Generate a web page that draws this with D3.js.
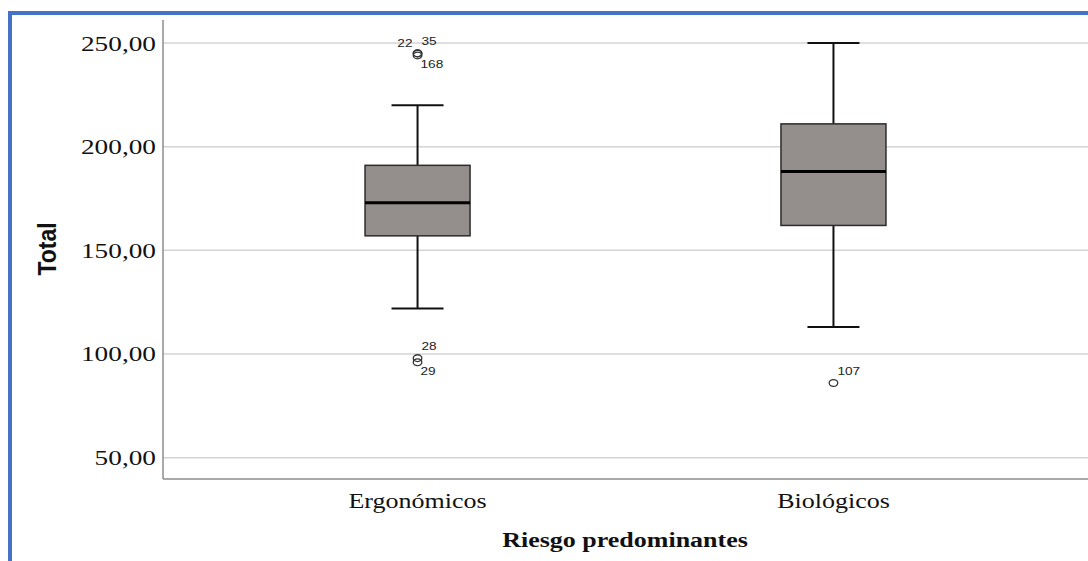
<!DOCTYPE html>
<html>
<head>
<meta charset="utf-8">
<script src="https://cdn.jsdelivr.net/npm/d3@7"></script>
<style>
  html, body { margin: 0; padding: 0; background: #fff; }
  svg { display: block; }
</style>
</head>
<body>
<div id="chart"></div>
<script>
// categories and box statistics
const categories = ["Ergonómicos", "Biológicos"];
const whiskerLow = [122, 113];
const q1 = [157, 162];
const medians = [173, 188];
const q3 = [191, 211];
const whiskerHigh = [220, 250];

// outliers: category index, case id, value
const outlierCat = [0, 0, 0, 0, 0, 1];
const outlierId = ["22", "35", "168", "28", "29", "107"];
const outlierVal = [245, 245, 244, 98, 96, 86];

const yTicks = [50, 100, 150, 200, 250];
const xTitle = "Riesgo predominantes";
const yTitle = "Total";

const W = 1088, H = 561;
const stretch = 1.3; // the original image is widened horizontally
const plot = { left: 163, right: 1088, top: 20, bottom: 479 };

const svg = d3.select("#chart").append("svg")
    .attr("width", W)
    .attr("height", H);

// blue frame (top and left edge)
svg.append("rect").attr("x", 8).attr("y", 11).attr("width", W - 8).attr("height", 4).attr("fill", "#4472c4");
svg.append("rect").attr("x", 8).attr("y", 11).attr("width", 4).attr("height", H - 11).attr("fill", "#4472c4");

const x = d3.scalePoint()
    .domain(categories)
    .range([plot.left, plot.right])
    .padding(0.612);

const y = d3.scaleLinear()
    .domain([39.7, 261.1])
    .range([plot.bottom, plot.top]);

// gridlines
svg.append("g")
  .selectAll("line")
  .data(yTicks)
  .join("line")
    .attr("x1", plot.left)
    .attr("x2", plot.right)
    .attr("y1", d => y(d))
    .attr("y2", d => y(d))
    .attr("stroke", "#d4d4d4")
    .attr("stroke-width", 1.5);

// tick labels
svg.append("g")
  .selectAll("text")
  .data(yTicks)
  .join("text")
    .attr("transform", d => `translate(${plot.left - 7},${y(d) + 7.5}) scale(${stretch},1)`)
    .attr("text-anchor", "end")
    .style("font-family", "'Liberation Serif', 'Times New Roman', serif")
    .style("font-size", "21px")
    .attr("fill", "#111")
    .text(d => d3.format(".2f")(d).replace(".", ","));

// axis lines
svg.append("line")
    .attr("x1", plot.left).attr("x2", plot.left)
    .attr("y1", plot.top).attr("y2", plot.bottom)
    .attr("stroke", "#8c8c8c").attr("stroke-width", 1.5);
svg.append("line")
    .attr("x1", plot.left).attr("x2", plot.right)
    .attr("y1", plot.bottom).attr("y2", plot.bottom)
    .attr("stroke", "#8c8c8c").attr("stroke-width", 1.5);

// boxes
const boxW = 105, capW = 52;
const boxes = categories.map((c, i) => ({
    cat: c, lo: whiskerLow[i], q1: q1[i], med: medians[i], q3: q3[i], hi: whiskerHigh[i]
}));

const g = svg.append("g")
  .selectAll("g")
  .data(boxes)
  .join("g")
    .attr("transform", d => `translate(${x(d.cat)},0)`);

g.append("line")
    .attr("y1", d => y(d.hi)).attr("y2", d => y(d.q3))
    .attr("stroke", "#111").attr("stroke-width", 2);
g.append("line")
    .attr("y1", d => y(d.q1)).attr("y2", d => y(d.lo))
    .attr("stroke", "#111").attr("stroke-width", 2);
g.append("line")
    .attr("x1", -capW / 2).attr("x2", capW / 2)
    .attr("y1", d => y(d.hi)).attr("y2", d => y(d.hi))
    .attr("stroke", "#111").attr("stroke-width", 2);
g.append("line")
    .attr("x1", -capW / 2).attr("x2", capW / 2)
    .attr("y1", d => y(d.lo)).attr("y2", d => y(d.lo))
    .attr("stroke", "#111").attr("stroke-width", 2);
g.append("rect")
    .attr("x", -boxW / 2)
    .attr("width", boxW)
    .attr("y", d => y(d.q3))
    .attr("height", d => y(d.q1) - y(d.q3))
    .attr("fill", "#948f8d")
    .attr("stroke", "#2b2b2b")
    .attr("stroke-width", 1.5);
g.append("line")
    .attr("x1", -boxW / 2).attr("x2", boxW / 2)
    .attr("y1", d => y(d.med)).attr("y2", d => y(d.med))
    .attr("stroke", "#000").attr("stroke-width", 3);

// outliers, with label placement worked out per cluster of close points
const outliers = outlierId.map((id, i) => ({ cat: categories[outlierCat[i]], id, v: outlierVal[i] }));
const clusters = [];
outliers.forEach(o => {
    const last = clusters[clusters.length - 1];
    if (last && last[0].cat === o.cat && Math.abs(last[last.length - 1].v - o.v) < 5) last.push(o);
    else clusters.push([o]);
});
clusters.forEach(cl => {
    cl.forEach((o, k) => {
        if (cl.length === 1) o.place = "ur";
        else if (k === cl.length - 1) o.place = "dr";
        else if (k === cl.length - 2) o.place = "ur";
        else o.place = "ul";
    });
});

const og = svg.append("g")
  .selectAll("g")
  .data(outliers)
  .join("g")
    .attr("transform", d => `translate(${x(d.cat)},${y(d.v)})`);

og.append("ellipse")
    .attr("rx", 4.3)
    .attr("ry", 3.4)
    .attr("fill", "none")
    .attr("stroke", "#333")
    .attr("stroke-width", 1.3);

og.append("text")
    .attr("transform", d => {
        const dx = d.place === "ul" ? -5 : d.place === "dr" ? 3 : 4;
        const dy = d.place === "dr" ? 13 : d.place === "ul" ? -6 : -8;
        return `translate(${dx},${dy}) scale(${stretch},1)`;
    })
    .attr("text-anchor", d => d.place === "ul" ? "end" : "start")
    .style("font-family", "'Liberation Sans', Arial, sans-serif")
    .style("font-size", "10.5px")
    .attr("fill", "#222")
    .text(d => d.id);

// category labels
svg.append("g")
  .selectAll("text")
  .data(categories)
  .join("text")
    .attr("transform", d => `translate(${x(d)},508) scale(${stretch},1)`)
    .attr("text-anchor", "middle")
    .style("font-family", "'Liberation Serif', 'Times New Roman', serif")
    .style("font-size", "20px")
    .attr("fill", "#111")
    .text(d => d);

// axis titles
svg.append("text")
    .attr("transform", `translate(625,547) scale(${stretch},1)`)
    .attr("text-anchor", "middle")
    .style("font-family", "'Liberation Serif', 'Times New Roman', serif")
    .style("font-size", "20px")
    .style("font-weight", "bold")
    .attr("fill", "#111")
    .text(xTitle);

svg.append("text")
    .attr("transform", `translate(56,249) scale(1.15,1) rotate(-90)`)
    .attr("text-anchor", "middle")
    .style("font-family", "'Liberation Sans', Arial, sans-serif")
    .style("font-size", "23px")
    .style("font-weight", "bold")
    .attr("fill", "#111")
    .text(yTitle);
</script>
</body>
</html>
